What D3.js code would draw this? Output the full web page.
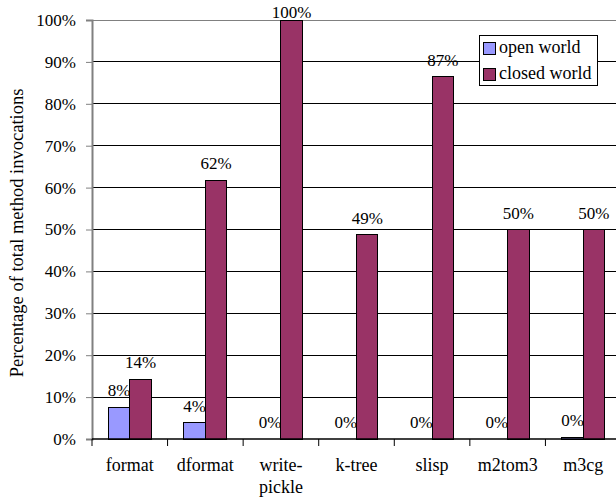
<!DOCTYPE html>
<html lang="en">
<head>
<meta charset="UTF-8">
<title>Method invocations</title>
<script src="https://d3js.org/d3.v7.min.js"></script>
<style>
  body { margin: 0; background: #fff; }
  svg text { font-family: "Liberation Serif", "Times New Roman", Times, serif !important; fill: #000; }
</style>
</head>
<body>
<svg id="chart" width="616" height="499"></svg>
<script>
// data
let categories = ["format", "dformat", "write-pickle", "k-tree", "slisp", "m2tom3", "m3cg"];
let openWorld = [7.6, 3.9, 0, 0, 0, 0, 0.4];
let closedWorld = [14.3, 61.8, 100, 48.8, 86.5, 49.9, 49.9];
let openLabels = ["8%", "4%", "0%", "0%", "0%", "0%", "0%"];
let closedLabels = ["14%", "62%", "100%", "49%", "87%", "50%", "50%"];
let yTicks = [0, 10, 20, 30, 40, 50, 60, 70, 80, 90, 100];
let seriesNames = ["open world", "closed world"];
let colors = ["#9999ff", "#993366"];

let svg = d3.select("#chart");
let mLeft = 92, mRight = 621, mTop = 20, mBottom = 439;

let x = d3.scaleBand().domain(categories).range([mLeft, mRight]);
let inner = d3.scaleBand().domain([0, 1]).range([0, x.bandwidth()]).paddingOuter(0.76).paddingInner(0);
let y = d3.scaleLinear().domain([0, 100]).range([mBottom, mTop]);

// gridlines
svg.append("g").selectAll("line").data(yTicks.filter(d => d > 0)).join("line")
    .attr("x1", mLeft).attr("x2", mRight)
    .attr("y1", d => y(d)).attr("y2", d => y(d))
    .attr("stroke", d => d == 100 ? "#808080" : "#000").attr("stroke-width", 1)
    .attr("shape-rendering", "crispEdges");

// bars
let series = [openWorld, closedWorld];
let labels = [openLabels, closedLabels];
series.forEach(function(vals, s) {
    let g = svg.append("g");
    g.selectAll("rect").data(vals).join("rect")
        .attr("x", (d, i) => x(categories[i]) + inner(s))
        .attr("y", d => y(d))
        .attr("width", inner.bandwidth())
        .attr("height", d => mBottom - y(d))
        .attr("fill", colors[s])
        .attr("stroke", "#000").attr("stroke-width", 1)
        .attr("shape-rendering", "crispEdges");
    g.selectAll("text").data(vals).join("text")
        .attr("x", (d, i) => x(categories[i]) + inner(s) + inner.bandwidth() / 2)
        .attr("y", d => Math.max(y(d) - 11, 18))
        .attr("text-anchor", "middle")
        .attr("font-size", 17)
        .text((d, i) => labels[s][i]);
});

// y axis
let yAxis = d3.axisLeft(y).tickValues(yTicks).tickSize(6).tickFormat(d => d + "%");
let ya = svg.append("g").attr("transform", `translate(${mLeft},0)`).call(yAxis);
ya.attr("font-family", null).attr("font-size", null);
ya.select(".domain").attr("stroke", "#808080").attr("stroke-width", 2);
ya.selectAll(".tick line").attr("stroke", "#808080");
ya.selectAll(".tick text").attr("font-size", 17).attr("fill", "#000").attr("x", -16);

// x axis
let xa = svg.append("g").attr("transform", `translate(0,${mBottom})`);
xa.append("line").attr("x1", mLeft).attr("x2", mRight).attr("y1", 0).attr("y2", 0)
    .attr("stroke", "#000").attr("stroke-width", 1.5);
xa.selectAll("line.tick").data(categories).join("line").attr("class", "tick")
    .attr("x1", d => x(d)).attr("x2", d => x(d)).attr("y1", 0).attr("y2", 7)
    .attr("stroke", "#000");
xa.selectAll("text").data(categories).join("text")
    .attr("x", d => x(d) + x.bandwidth() / 2)
    .attr("y", 32)
    .attr("text-anchor", "middle")
    .attr("font-size", 18)
    .each(function(d) {
        let parts = d == "write-pickle" ? ["write-", "pickle"] : [d];
        d3.select(this).selectAll("tspan").data(parts).join("tspan")
            .attr("x", x(d) + x.bandwidth() / 2)
            .attr("dy", (p, i) => i == 0 ? 0 : 22)
            .text(p => p);
    });

// y title
svg.append("text")
    .attr("transform", "translate(23,233) rotate(-90)")
    .attr("text-anchor", "middle")
    .attr("font-size", 18.5)
    .text("Percentage of total method invocations");

// legend
let lg = svg.append("g").attr("transform", "translate(479,35)");
lg.append("rect").attr("width", 118).attr("height", 50)
    .attr("fill", "#fff").attr("stroke", "#000").attr("shape-rendering", "crispEdges");
seriesNames.forEach(function(n, i) {
    lg.append("rect").attr("x", 4).attr("y", 7 + i * 26).attr("width", 12).attr("height", 12)
        .attr("fill", colors[i]).attr("stroke", "#000").attr("shape-rendering", "crispEdges");
    lg.append("text").attr("x", 20).attr("y", 18 + i * 26).attr("font-size", 18).text(n);
});
</script>
</body>
</html>
